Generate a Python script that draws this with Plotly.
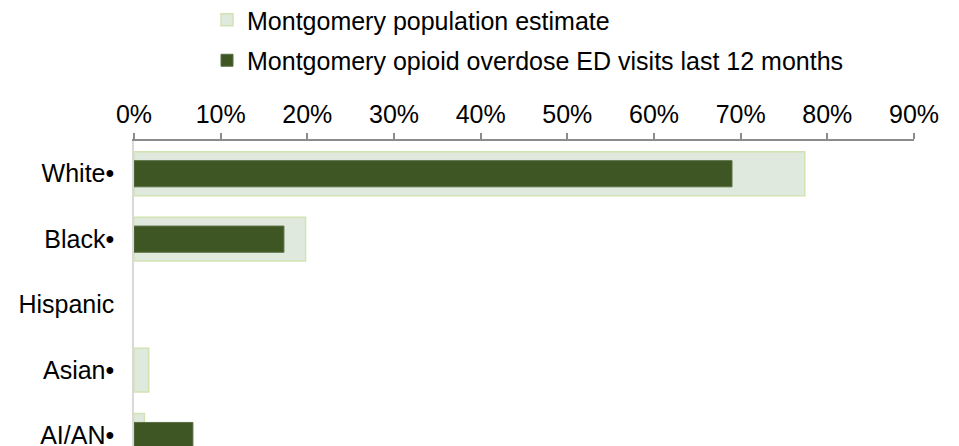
"""Montgomery opioid overdose ED visits vs population, by race."""

import plotly.graph_objects as go

categories = ["White•", "Black•", "Hispanic", "Asian•", "AI/AN•"]
population_pct = [0.774, 0.198, None, 0.017, 0.012]
ed_visits_pct = [0.690, 0.173, None, None, 0.068]
x_ticks = [0, 0.1, 0.2, 0.3, 0.4, 0.5, 0.6, 0.7, 0.8, 0.9]

FONT = "Liberation Sans, Arial, sans-serif"
# the page body keeps its default 8px margin, so the figure is drawn 8px smaller
W, H = 951, 438
TOP, LEFT = 133, 126
PLOT_H = H - TOP

fig = go.Figure()
fig.add_trace(
    go.Bar(
        y=categories,
        x=population_pct,
        orientation="h",
        name="Montgomery population estimate",
        legendgroup="pop",
        width=0.67,
        marker=dict(color="#e0e9dd", line=dict(color="#d3e2b2", width=1.5)),
    )
)
fig.add_trace(
    go.Bar(
        y=categories,
        x=ed_visits_pct,
        orientation="h",
        name="Montgomery opioid overdose ED visits last 12 months",
        legendgroup="ed",
        width=0.4,
        marker=dict(color="#3e5623", line=dict(color="#5b6f45", width=1)),
    )
)

fig.update_layout(
    width=W,
    height=H,
    barmode="overlay",
    plot_bgcolor="white",
    paper_bgcolor="white",
    font=dict(family=FONT, size=25, color="black"),
    margin=dict(l=LEFT, r=45, t=TOP, b=0, autoexpand=False),
    legend=dict(
        x=(199 - LEFT) / (W - LEFT - 45),
        xanchor="left",
        y=1 + (TOP + 11) / PLOT_H,
        yanchor="top",
        tracegroupgap=5,
        font=dict(size=25),
        bgcolor="rgba(0,0,0,0)",
    ),
    showlegend=True,
)

fig.update_xaxes(
    side="top",
    range=[0, 0.9],
    tickvals=x_ticks,
    tickformat=".0%",
    ticks="outside",
    ticklen=6,
    tickwidth=1.5,
    tickcolor="#8c8c8c",
    ticklabelstandoff=0,
    showline=True,
    linecolor="#8c8c8c",
    linewidth=1.5,
    showgrid=False,
    zeroline=False,
    automargin=False,
)
fig.update_yaxes(
    categoryorder="array",
    categoryarray=categories,
    range=[4.16, -0.5],
    showline=True,
    linecolor="#d9d9d9",
    linewidth=1.5,
    ticks="",
    ticklabelstandoff=13,
    showgrid=False,
    zeroline=False,
    automargin=False,
)

fig.write_html("out.html")
